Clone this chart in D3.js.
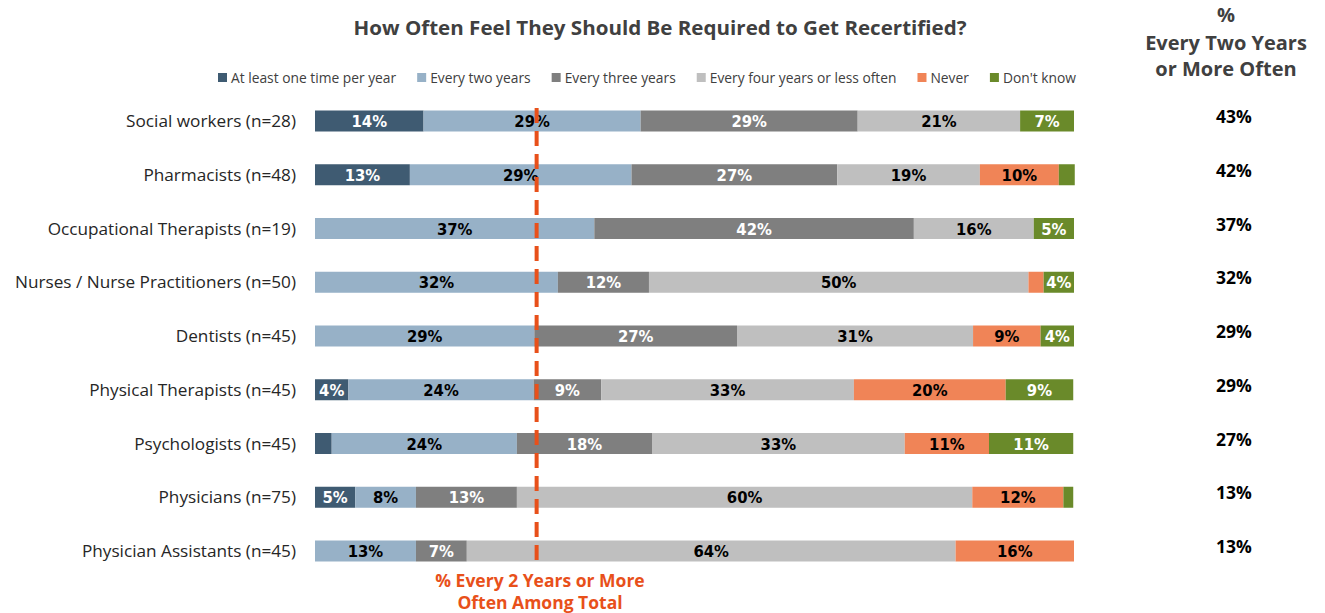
<!DOCTYPE html>
<html><head><meta charset="utf-8">
<script src="https://cdn.jsdelivr.net/npm/d3@7"></script>
<style>
body{margin:0;background:#fff;}
svg{display:block;}
</style></head>
<body><svg id="chart" width="1325" height="613"></svg>
<script>
const categories = ["Social workers (n=28)","Pharmacists (n=48)","Occupational Therapists (n=19)","Nurses / Nurse Practitioners (n=50)","Dentists (n=45)","Physical Therapists (n=45)","Psychologists (n=45)","Physicians (n=75)","Physician Assistants (n=45)"];
const seriesNames = ["At least one time per year","Every two years","Every three years","Every four years or less often","Never","Don't know"];
const atLeastOnce = [14.3, 12.5, 0, 0, 0, 4.4, 2.2, 5.3, 0];
const everyTwo    = [28.6, 29.2, 36.8, 32, 28.9, 24.4, 24.4, 8.0, 13.3];
const everyThree  = [28.6, 27.1, 42.1, 12, 26.7, 8.9, 17.8, 13.3, 6.7];
const everyFour   = [21.4, 18.8, 15.8, 50, 31.1, 33.3, 33.3, 60, 64.4];
const never       = [0, 10.4, 0, 2, 8.9, 20, 11.1, 12, 15.6];
const dontKnow    = [7.1, 2.1, 5.3, 4, 4.4, 8.9, 11.1, 1.3, 0];
const twoYearsOrMore = ["43%","42%","37%","32%","29%","29%","27%","13%","13%"];
const totalTwoYearsOrMore = 29.2;

const seriesValues = [atLeastOnce, everyTwo, everyThree, everyFour, never, dontKnow];
const colors = ["#3F5B72","#97B1C7","#7F7F7F","#BFBFBF","#F08457","#6A8A2A"];
const labelColors = ["#fff","#000","#fff","#000","#000","#fff"];

const svg = d3.select("#chart");
const x = d3.scaleLinear().domain([0,100]).range([315,1074]);
const y = d3.scalePoint().domain(categories).range([121,551]);
const barH = 21;

const table = categories.map((c,i)=>{
  const row = {category:c};
  seriesNames.forEach((s,j)=>row[s]=seriesValues[j][i]);
  return row;
});
const stacked = d3.stack().keys(seriesNames)(table);

// title
svg.append("text").attr("x",660).attr("y",35).attr("text-anchor","middle")
  .attr("font-family","Open Sans, sans-serif").attr("font-weight","bold").attr("font-size",19.5)
  .attr("textLength",613).attr("lengthAdjust","spacingAndGlyphs")
  .attr("fill","#404040").text("How Often Feel They Should Be Required to Get Recertified?");

// legend
const legend = svg.append("g");
let lx = 218;
seriesNames.forEach((s,j)=>{
  legend.append("rect").attr("x",lx).attr("y",73).attr("width",9).attr("height",9).attr("fill",colors[j]);
  const t = legend.append("text").attr("x",lx+13).attr("y",83)
    .attr("font-family","Open Sans, sans-serif").attr("font-size",13.8).attr("fill","#404040").text(s);
  lx += 13 + t.node().getComputedTextLength() + 21;
});

// category labels
svg.append("g").selectAll("text").data(categories).join("text")
  .attr("x",296).attr("y",d=>y(d)+6).attr("text-anchor","end")
  .attr("font-family","Open Sans, sans-serif").attr("font-size",17.2).attr("fill","#262626").text(d=>d);

// bars
const layers = svg.append("g").selectAll("g").data(stacked).join("g");
layers.each(function(layer, j){
  const g = d3.select(this);
  g.selectAll("rect").data(layer).join("rect")
    .attr("x",d=>x(d[0])).attr("width",d=>x(d[1])-x(d[0]))
    .attr("y",d=>y(d.data.category)-barH/2).attr("height",barH)
    .attr("fill",colors[j]);
});
layers.each(function(layer, j){
  const g = d3.select(this);
  g.selectAll("text").data(layer.filter(d=>d[1]-d[0]>=3)).join("text")
    .attr("x",d=>(x(d[0])+x(d[1]))/2).attr("y",d=>y(d.data.category)+6)
    .attr("text-anchor","middle")
    .attr("font-family","Liberation Sans Narrow, DejaVu Sans Condensed, sans-serif")
    .attr("font-weight","bold").attr("font-size",16.5).attr("fill",labelColors[j])
    .text(d=>Math.round(d[1]-d[0])+"%");
});

// dashed line
svg.append("line").attr("x1",x(totalTwoYearsOrMore)).attr("x2",x(totalTwoYearsOrMore))
  .attr("y1",108).attr("y2",568).attr("stroke","#E8501A").attr("stroke-width",4)
  .attr("stroke-dasharray","15,8");
svg.append("text").attr("x",540).attr("y",587).attr("text-anchor","middle")
  .attr("font-family","Open Sans, sans-serif").attr("font-weight","bold").attr("font-size",17.5)
  .attr("fill","#E8501A").text("% Every 2 Years or More");
svg.append("text").attr("x",540).attr("y",609).attr("text-anchor","middle")
  .attr("font-family","Open Sans, sans-serif").attr("font-weight","bold").attr("font-size",17.5)
  .attr("fill","#E8501A").text("Often Among Total");

// right column
const hdr = ["%","Every Two Years","or More Often"];
svg.append("g").selectAll("text").data(hdr).join("text")
  .attr("x",1226).attr("y",(d,i)=>[22,50,76][i]).attr("text-anchor","middle")
  .attr("font-family","Open Sans, sans-serif").attr("font-weight","bold").attr("font-size",20)
  .attr("fill","#404040").text(d=>d);
svg.append("g").selectAll("text").data(twoYearsOrMore).join("text")
  .attr("x",1234).attr("y",(d,i)=>y(categories[i])+2).attr("text-anchor","middle")
  .attr("font-family","Open Sans, sans-serif").attr("font-weight","bold").attr("font-size",17.5)
  .attr("fill","#000").text(d=>d);
</script></body></html>
